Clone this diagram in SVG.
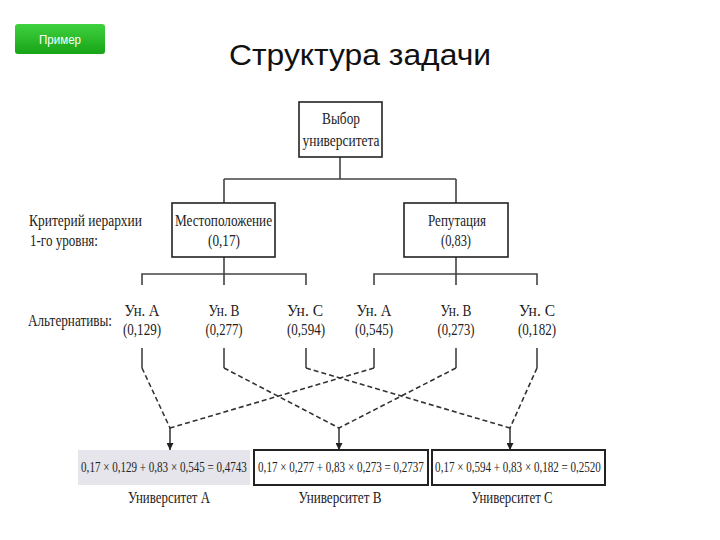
<svg xmlns="http://www.w3.org/2000/svg" width="720" height="540" viewBox="0 0 720 540">
<defs>
<linearGradient id="gr" x1="0" y1="0" x2="0" y2="1">
<stop offset="0" stop-color="#3fd23f"/>
<stop offset="1" stop-color="#17a317"/>
</linearGradient>
<marker id="ar" viewBox="0 0 10 10" refX="10" refY="5" markerWidth="7" markerHeight="7" markerUnits="userSpaceOnUse" orient="auto">
<path d="M0,0 L10,5 L0,10 z" fill="#222"/>
</marker>
<style>
.t{font-family:"Liberation Serif","Times New Roman",serif;font-size:16px;fill:#222;text-anchor:middle}
.l{font-family:"Liberation Serif","Times New Roman",serif;font-size:16px;fill:#222}
.r{font-family:"Liberation Serif","Times New Roman",serif;font-size:15px;fill:#222;text-anchor:middle}
.box{fill:#fff;stroke:#222;stroke-width:1.6}
.rbox{fill:#fff;stroke:#222;stroke-width:2}
.ln{fill:none;stroke:#444;stroke-width:1.6}
.ds{fill:none;stroke:#333;stroke-width:1.6;stroke-dasharray:5,3}
.ah{fill:none;stroke:#222;stroke-width:1.4;marker-end:url(#ar)}
</style>
</defs>
<rect width="720" height="540" fill="#fff"/>
<g id="button">
<rect x="15" y="24" width="90" height="30" rx="3" fill="url(#gr)"/>
<text x="60" y="44" font-family="Liberation Sans,Arial,sans-serif" font-size="13" fill="#fff" text-anchor="middle" textLength="42" lengthAdjust="spacingAndGlyphs">Пример</text>
</g>
<g id="title">
<text x="229" y="65" font-family="Liberation Sans,Arial,sans-serif" font-size="30" fill="#111" textLength="262" lengthAdjust="spacingAndGlyphs">Структура задачи</text>
</g>
<g id="connectors">
<path class="ln" d="M340,157 V179 M224,179 H456 M224,179 V203 M456,179 V203"/>
<path class="ln" d="M224,257 V285 M142,285 V274 H306 V285 M456,257 V285 M374,285 V274 H537 V285"/>
<path class="ln" d="M142,348 V368 M224,348 V368 M306,348 V368 M374,348 V368 M456,348 V368 M537,348 V368"/>
<path class="ds" d="M142,368 L170,428 M224,368 L339,428 M306,368 L510,428 M374,368 L170,428 M456,368 L339,428 M537,368 L510,428"/>
<path class="ah" d="M170,428 V450"/>
<path class="ah" d="M339,428 V450"/>
<path class="ah" d="M510,428 V450"/>
</g>
<g id="root">
<rect class="box" x="299" y="102" width="83" height="55"/>
<text class="t" x="341" y="124" textLength="38" lengthAdjust="spacingAndGlyphs">Выбор</text>
<text class="t" x="341" y="146" textLength="77" lengthAdjust="spacingAndGlyphs">университета</text>
</g>
<g id="crit-location">
<rect class="box" x="172" y="203" width="103" height="54"/>
<text class="t" x="223.5" y="226" textLength="97" lengthAdjust="spacingAndGlyphs">Местоположение</text>
<text class="t" x="224" y="246" textLength="32" lengthAdjust="spacingAndGlyphs">(0,17)</text>
</g>
<g id="crit-reputation">
<rect class="box" x="404" y="203" width="104" height="54"/>
<text class="t" x="457" y="226" textLength="58" lengthAdjust="spacingAndGlyphs">Репутация</text>
<text class="t" x="456" y="246" textLength="30" lengthAdjust="spacingAndGlyphs">(0,83)</text>
</g>
<g id="labels">
<text class="l" x="29" y="226" textLength="113" lengthAdjust="spacingAndGlyphs">Критерий иерархии</text>
<text class="l" x="30" y="246" textLength="68" lengthAdjust="spacingAndGlyphs">1-го уровня:</text>
<text class="l" x="28" y="326" textLength="84" lengthAdjust="spacingAndGlyphs">Альтернативы:</text>
</g>
<g id="alt-loc-a"><text class="t" x="142" y="316" textLength="35" lengthAdjust="spacingAndGlyphs">Ун. А</text><text class="t" x="142" y="335" textLength="38" lengthAdjust="spacingAndGlyphs">(0,129)</text></g>
<g id="alt-loc-b"><text class="t" x="224" y="316" textLength="31" lengthAdjust="spacingAndGlyphs">Ун. В</text><text class="t" x="224" y="335" textLength="37" lengthAdjust="spacingAndGlyphs">(0,277)</text></g>
<g id="alt-loc-c"><text class="t" x="305" y="316" textLength="36" lengthAdjust="spacingAndGlyphs">Ун. С</text><text class="t" x="306" y="335" textLength="38" lengthAdjust="spacingAndGlyphs">(0,594)</text></g>
<g id="alt-rep-a"><text class="t" x="374" y="316" textLength="35" lengthAdjust="spacingAndGlyphs">Ун. А</text><text class="t" x="374" y="335" textLength="38" lengthAdjust="spacingAndGlyphs">(0,545)</text></g>
<g id="alt-rep-b"><text class="t" x="456" y="316" textLength="31" lengthAdjust="spacingAndGlyphs">Ун. В</text><text class="t" x="456" y="335" textLength="37" lengthAdjust="spacingAndGlyphs">(0,273)</text></g>
<g id="alt-rep-c"><text class="t" x="537" y="316" textLength="36" lengthAdjust="spacingAndGlyphs">Ун. С</text><text class="t" x="537" y="335" textLength="38" lengthAdjust="spacingAndGlyphs">(0,182)</text></g>
<g id="result-a">
<rect x="78" y="450" width="172" height="35" fill="#e5e5eb"/>
<text class="r" transform="scale(0.74,1)" x="221.6" y="472" textLength="224" lengthAdjust="spacingAndGlyphs">0,17 × 0,129 + 0,83 × 0,545 = 0,4743</text>
<text class="t" x="169" y="503" textLength="82" lengthAdjust="spacingAndGlyphs">Университет А</text>
</g>
<g id="result-b">
<rect class="rbox" x="254" y="450" width="174" height="35"/>
<text class="r" transform="scale(0.74,1)" x="460.8" y="472" textLength="224" lengthAdjust="spacingAndGlyphs">0,17 × 0,277 + 0,83 × 0,273 = 0,2737</text>
<text class="t" x="340" y="503" textLength="83" lengthAdjust="spacingAndGlyphs">Университет В</text>
</g>
<g id="result-c">
<rect class="rbox" x="432" y="450" width="173" height="35"/>
<text class="r" transform="scale(0.74,1)" x="700" y="472" textLength="224" lengthAdjust="spacingAndGlyphs">0,17 × 0,594 + 0,83 × 0,182 = 0,2520</text>
<text class="t" x="512" y="503" textLength="81" lengthAdjust="spacingAndGlyphs">Университет С</text>
</g>
</svg>
